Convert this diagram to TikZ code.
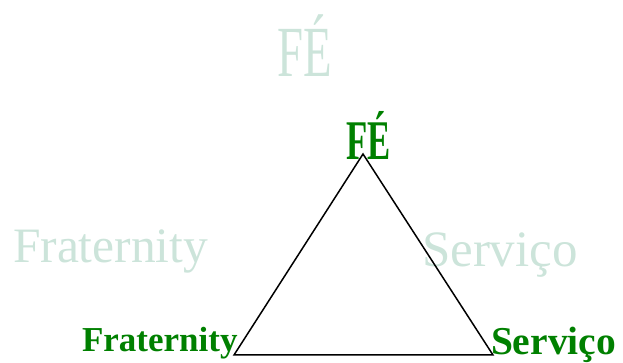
\documentclass[tikz,border=0pt]{standalone}
\usepackage{fontspec}
\setmainfont{Liberation Serif}
\definecolor{pale}{RGB}{204,228,218}
\definecolor{dgreen}{RGB}{0,128,0}
\begin{document}
\begin{tikzpicture}[x=1pt,y=1pt,
  txt/.style={inner sep=0pt,outer sep=0pt,anchor=base west},
  faint/.style={txt,text=pale},
  strong/.style={txt,text=dgreen,font=\bfseries}]
\useasboundingbox (0,0) rectangle (623,363);
% faint background words
\node[faint,xscale=0.65] (fe1) at (277,286) {\fontsize{72}{80}\selectfont FÉ};
\node[faint] (fr1) at (13,100) {\fontsize{49.5}{56}\selectfont Fraternity};
\node[faint] (se1) at (422,96) {\fontsize{51}{58}\selectfont Serviço};
% triangle
\coordinate (top) at (363,209);
\coordinate (bl) at (234,8);
\coordinate (br) at (493,8);
\draw[line width=1.5pt,line join=miter] (top) -- (bl) -- (br) -- cycle;
% strong words
\node[strong,xscale=0.62] (fe2) at (346,203) {\fontsize{56}{64}\selectfont FÉ};
\node[strong] (fr2) at (82,11) {\fontsize{35}{40}\selectfont Fraternity};
\node[strong] (se2) at (491,8) {\fontsize{39.5}{44}\selectfont Serviço};
\end{tikzpicture}
\end{document}
